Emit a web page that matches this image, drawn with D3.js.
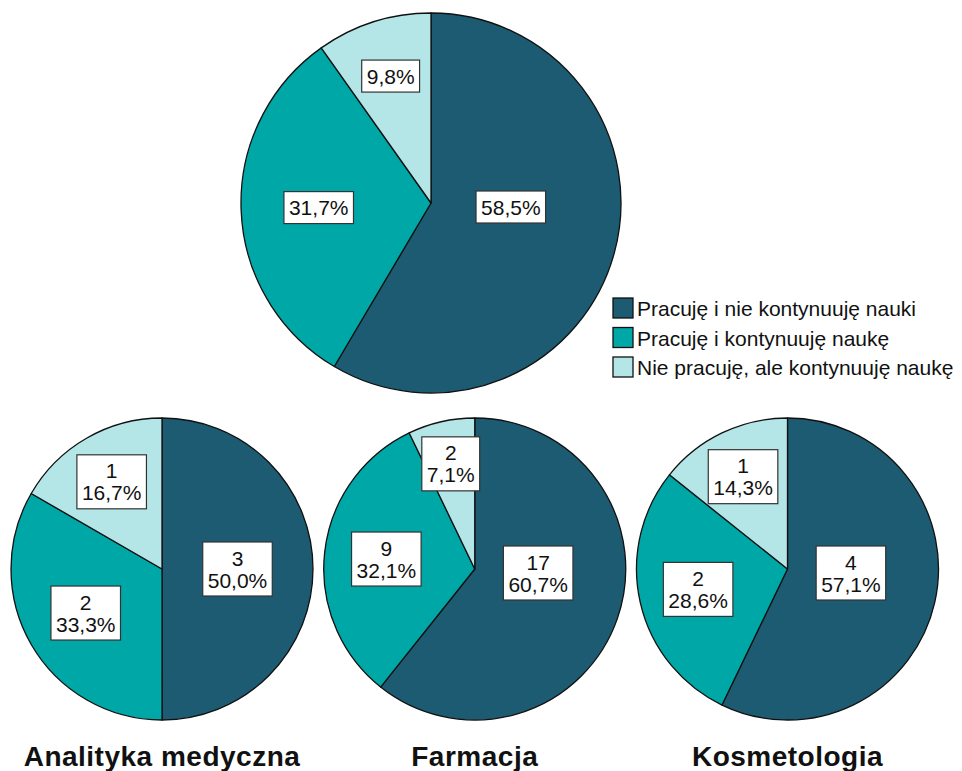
<!DOCTYPE html>
<html>
<head>
<meta charset="utf-8">
<script src="https://cdn.jsdelivr.net/npm/d3@7"></script>
<style>
  body { margin: 0; background: #fff; }
  svg { display: block; }
</style>
</head>
<body>
<div id="chart"></div>
<script>
// answer categories (legend order = slice order)
var categories = ["Pracuję i nie kontynuuję nauki", "Pracuję i kontynuuję naukę", "Nie pracuję, ale kontynuuję naukę"];
// overall pie, percent only
var overallPercent = [58.5, 31.7, 9.8];
// per field of study, counts
var groups = ["Analityka medyczna", "Farmacja", "Kosmetologia"];
var analitykaCounts = [3, 2, 1];
var farmacjaCounts = [17, 9, 2];
var kosmetologiaCounts = [4, 2, 1];
var groupCounts = [analitykaCounts, farmacjaCounts, kosmetologiaCounts];

var colors = ["#1c5b72", "#00a7a7", "#b4e6e7"];

var width = 962, height = 771;

var svg = d3.select("#chart").append("svg")
  .attr("width", width)
  .attr("height", height);

var color = d3.scaleOrdinal().domain(categories).range(colors);

var pl = d3.formatLocale({decimal: ",", thousands: " ", grouping: [3], currency: ["", " zł"]});
var fmt = pl.format(".1f");

var pie = d3.pie().sort(null).value(function(d) { return d.value; });

function drawPie(g, values, r, showCounts) {
  var total = d3.sum(values);
  var data = values.map(function(v, i) { return {key: categories[i], value: v}; });
  var arcs = pie(data);
  var arc = d3.arc().innerRadius(0).outerRadius(r);

  g.selectAll("path.slice")
    .data(arcs)
    .enter().append("path")
    .attr("class", "slice")
    .attr("d", arc)
    .attr("fill", function(d) { return color(d.data.key); })
    .attr("stroke", "#111")
    .attr("stroke-width", 1.3)
    .attr("stroke-linejoin", "round");

  var labels = g.selectAll("g.lab")
    .data(arcs)
    .enter().append("g")
    .attr("class", "lab")
    .attr("transform", function(d) {
      var p = d.data.value / total;
      var a = p > 0.5 ? Math.PI / 2 : (d.startAngle + d.endAngle) / 2;
      var f = p > 0.5 ? 0.42 : 0.75 - 0.5 * p;
      var x = Math.sin(a) * r * f, y = -Math.cos(a) * r * f + (p > 0.5 ? 4 : 0);
      return "translate(" + x + "," + y + ")";
    });

  labels.each(function(d) {
    var lab = d3.select(this);
    var p = d.data.value / total;
    var lines = showCounts ? [String(d.data.value), fmt(p * 100) + "%"] : [fmt(p * 100) + "%"];
    var lh = 22;
    var box = lab.append("rect").attr("fill", "#fff").attr("stroke", "#333").attr("stroke-width", 1.2);
    var txt = lab.append("text")
      .attr("text-anchor", "middle")
      .style("font-family", "'Liberation Sans', Arial, sans-serif")
      .style("font-size", "21px")
      .attr("fill", "#111");
    lines.forEach(function(s, i) {
      txt.append("tspan")
        .attr("x", 0)
        .attr("y", (i - (lines.length - 1) / 2) * lh + 7.5)
        .text(s);
    });
    var w = d3.max(txt.selectAll("tspan").nodes(), function(n) { return n.getComputedTextLength(); });
    var h = lines.length * lh + 10;
    box.attr("x", -w / 2 - 5).attr("y", -h / 2).attr("width", w + 10).attr("height", h);
  });
}

// overall pie
var topPie = svg.append("g").attr("transform", "translate(431,203)");
drawPie(topPie, overallPercent, 190, false);

// bottom pies
var x = d3.scalePoint().domain(groups).range([162, 787.5]);
groups.forEach(function(name, i) {
  var g = svg.append("g").attr("transform", "translate(" + x(name) + ",569)");
  drawPie(g, groupCounts[i], 151, true);
  svg.append("text")
    .attr("x", x(name))
    .attr("y", 766)
    .attr("text-anchor", "middle")
    .style("font-family", "'Liberation Sans', Arial, sans-serif")
    .style("font-weight", "bold")
    .style("font-size", "28px")
    .style("letter-spacing", "0.5px")
    .attr("fill", "#111")
    .text(name);
});

// legend
var legend = svg.append("g").attr("transform", "translate(613,298)");
var rows = legend.selectAll("g")
  .data(categories)
  .enter().append("g")
  .attr("transform", function(d, i) { return "translate(0," + (i * 29.5) + ")"; });
rows.append("rect")
  .attr("width", 20)
  .attr("height", 20)
  .attr("fill", function(d) { return color(d); })
  .attr("stroke", "#111")
  .attr("stroke-width", 1.3);
rows.append("text")
  .attr("x", 24)
  .attr("y", 18)
  .style("font-family", "'Liberation Sans', Arial, sans-serif")
  .style("font-size", "21px")
  .attr("fill", "#111")
  .text(function(d) { return d; });
</script>
</body>
</html>
